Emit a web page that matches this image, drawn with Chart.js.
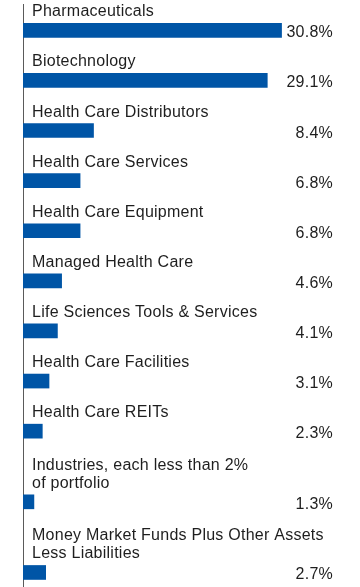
<!DOCTYPE html>
<html>
<head>
<meta charset="utf-8">
<script src="https://cdn.jsdelivr.net/npm/chart.js@4/dist/chart.umd.min.js"></script>
<style>
  html, body { margin: 0; padding: 0; background: #fff; }
  canvas { display: block; }
</style>
</head>
<body>
<canvas id="industryChart" width="360" height="587"></canvas>
<script>
// 업종별 비중 (%)
var categories = [
  ['Pharmaceuticals'],
  ['Biotechnology'],
  ['Health Care Distributors'],
  ['Health Care Services'],
  ['Health Care Equipment'],
  ['Managed Health Care'],
  ['Life Sciences Tools & Services'],
  ['Health Care Facilities'],
  ['Health Care REITs'],
  ['Industries, each less than 2%', 'of portfolio'],
  ['Money Market Funds Plus Other Assets', 'Less Liabilities']
];
var values = [30.8, 29.1, 8.4, 6.8, 6.8, 4.6, 4.1, 3.1, 2.3, 1.3, 2.7];
var valueLabels = ['30.8%', '29.1%', '8.4%', '6.8%', '6.8%', '4.6%', '4.1%', '3.1%', '2.3%', '1.3%', '2.7%'];

var FONT = '"Liberation Sans", Arial, sans-serif';
var TEXT_COLOR = '#1e1e1e';
var BAR_COLOR = '#0055a6';

// 줄 수에 따라 행 위치 계산 (두 줄 라벨은 간격이 더 넓음)
var EXTRA_LINE = 0.41;
var rowPos = [];
for (var i = 0; i < categories.length; i++) {
  if (i === 0) rowPos.push(0);
  else rowPos.push(rowPos[i - 1] + 1 + EXTRA_LINE * (categories[i].length - 1));
}

var points = values.map(function(v, i) { return { x: v, y: rowPos[i] }; });

// 막대 위 카테고리 이름, 오른쪽 값 표시
var labelPlugin = {
  id: 'barLabels',
  afterDatasetsDraw: function(chart) {
    var ctx = chart.ctx;
    var meta = chart.getDatasetMeta(0);
    ctx.save();
    ctx.font = '16px ' + FONT;
    ctx.fillStyle = TEXT_COLOR;
    ctx.letterSpacing = '0.25px';
    meta.data.forEach(function(bar, i) {
      var top = bar.y - bar.height / 2;
      var lines = categories[i];
      ctx.textAlign = 'left';
      ctx.textBaseline = 'alphabetic';
      for (var j = 0; j < lines.length; j++) {
        var baseline = top - 7 - (lines.length - 1 - j) * 18;
        ctx.fillText(lines[j], 32, baseline);
      }
      ctx.textAlign = 'right';
      ctx.fillText(valueLabels[i], 333, bar.y + 7);
    });
    ctx.restore();
  }
};

var chart = new Chart(document.getElementById('industryChart'), {
  type: 'bar',
  data: {
    datasets: [{
      data: points,
      backgroundColor: BAR_COLOR,
      borderWidth: 0,
      barThickness: 14
    }]
  },
  options: {
    indexAxis: 'y',
    responsive: false,
    animation: false,
    layout: { padding: { left: 23, right: 18, top: 4, bottom: 0 } },
    plugins: {
      legend: { display: false },
      tooltip: { enabled: false }
    },
    scales: {
      x: {
        display: false,
        min: 0,
        max: 38
      },
      y: {
        type: 'linear',
        reverse: true,
        offset: false,
        min: -0.525,
        max: 11.11,
        ticks: { display: false },
        grid: { display: true, drawOnChartArea: false, drawTicks: false },
        border: { display: true, color: '#5a5a5a', width: 1 }
      }
    }
  },
  plugins: [labelPlugin]
});
</script>
</body>
</html>
